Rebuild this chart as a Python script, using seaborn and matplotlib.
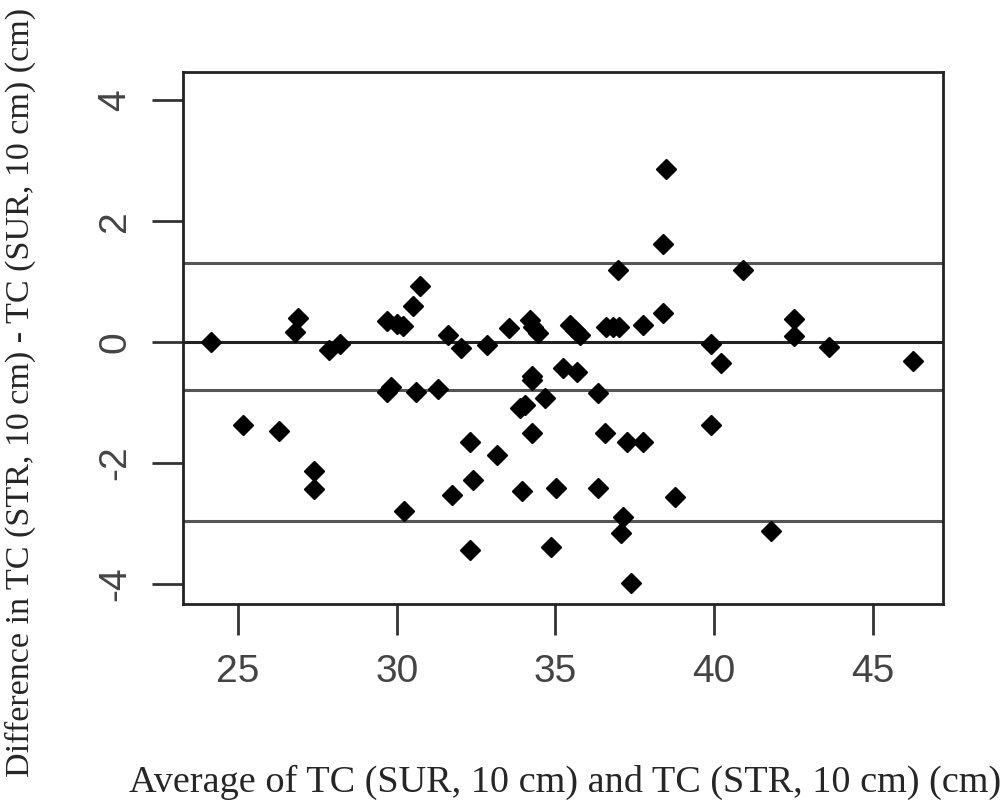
import numpy as np
import pandas as pd
import matplotlib
matplotlib.use("Agg")
import matplotlib.pyplot as plt
import seaborn as sns

# --- DATA
avg = [24.15, 25.16, 26.28, 26.8, 26.9, 27.4, 27.4, 27.87, 28.2,
       29.69, 30.0, 30.2, 30.51, 30.72,
       29.69, 29.82, 30.6, 31.3, 30.22,
       31.63, 32.02, 32.83, 33.54, 34.2, 34.3, 34.45,
       35.46, 35.6, 35.77, 36.6, 36.8, 37.0, 37.75, 38.39, 38.39, 38.48, 36.97,
       35.24, 35.68, 34.25,
       34.25, 34.67, 34.04, 33.88, 36.34,
       32.31, 33.15, 34.25, 36.56, 37.24, 37.76,
       32.41, 31.73, 33.93, 35.03, 36.34, 38.76,
       37.13, 37.05, 32.31, 34.85, 37.38,
       40.9, 39.89, 40.2, 42.5, 42.5, 43.6, 46.25, 39.9, 41.8]
diff = [0.0, -1.37, -1.47, 0.17, 0.40, -2.14, -2.43, -0.13, -0.04,
        0.34, 0.30, 0.27, 0.60, 0.93,
        -0.82, -0.74, -0.82, -0.78, -2.80,
        0.12, -0.10, -0.05, 0.23, 0.36, 0.25, 0.15,
        0.28, 0.20, 0.12, 0.25, 0.25, 0.25, 0.28, 0.48, 1.62, 2.86, 1.19,
        -0.43, -0.50, -0.57,
        -0.63, -0.93, -1.04, -1.09, -0.85,
        -1.65, -1.87, -1.51, -1.51, -1.65, -1.65,
        -2.28, -2.53, -2.47, -2.42, -2.42, -2.56,
        -2.89, -3.16, -3.44, -3.38, -3.98,
        1.19, -0.04, -0.35, 0.38, 0.10, -0.08, -0.31, -1.37, -3.12]
ref_lines = [1.31, 0.0, -0.79, -2.96]
x_ticks = [25, 30, 35, 40, 45]
y_ticks = [-4, -2, 0, 2, 4]

df = pd.DataFrame({'avg': avg, 'diff': diff})

# --- PLOT
sns.set_style("white")
plt.rcParams['font.family'] = ['Liberation Sans', 'DejaVu Sans']
plt.rcParams['axes.unicode_minus'] = False

fig = plt.figure(figsize=(10.03, 8), dpi=100)
ax = fig.add_axes([0.1825, 0.245, 0.7575, 0.665])

for yv in ref_lines:
    ax.axhline(yv, color='#222222' if yv == 0 else '#555555', lw=2.2, zorder=1)

sns.scatterplot(data=df, x='avg', y='diff', ax=ax, marker='D', s=95,
                color='black', edgecolor='black', linewidth=1.5, zorder=3)

ax.set_xlim(23.27, 47.2)
ax.set_ylim(-4.33, 4.46)
ax.set_xticks(x_ticks)
ax.set_yticks(y_ticks)
ax.tick_params(axis='both', direction='out', length=22, width=2,
               color='#333333', labelsize=28, labelcolor='#444444', pad=14)
ax.tick_params(axis='x', bottom=True)
ax.tick_params(axis='y', left=True)
for lab in ax.get_yticklabels():
    lab.set_rotation(90)
    lab.set_va('center')
for sp in ax.spines.values():
    sp.set_color('#222222')
    sp.set_linewidth(2)

ax.set_xlabel('')
ax.set_ylabel('')
fig.text(0.563, 0.022, 'Average of TC (SUR, 10 cm) and TC (STR, 10 cm) (cm)',
         family='Liberation Serif', fontsize=27.5, ha='center', va='center')
fig.text(0.02, 0.51, 'Difference in TC (STR, 10 cm) - TC (SUR, 10 cm) (cm)',
         family='Liberation Serif', fontsize=24.6, ha='center', va='center',
         rotation=90)

plt.savefig('out.png', dpi=100)
